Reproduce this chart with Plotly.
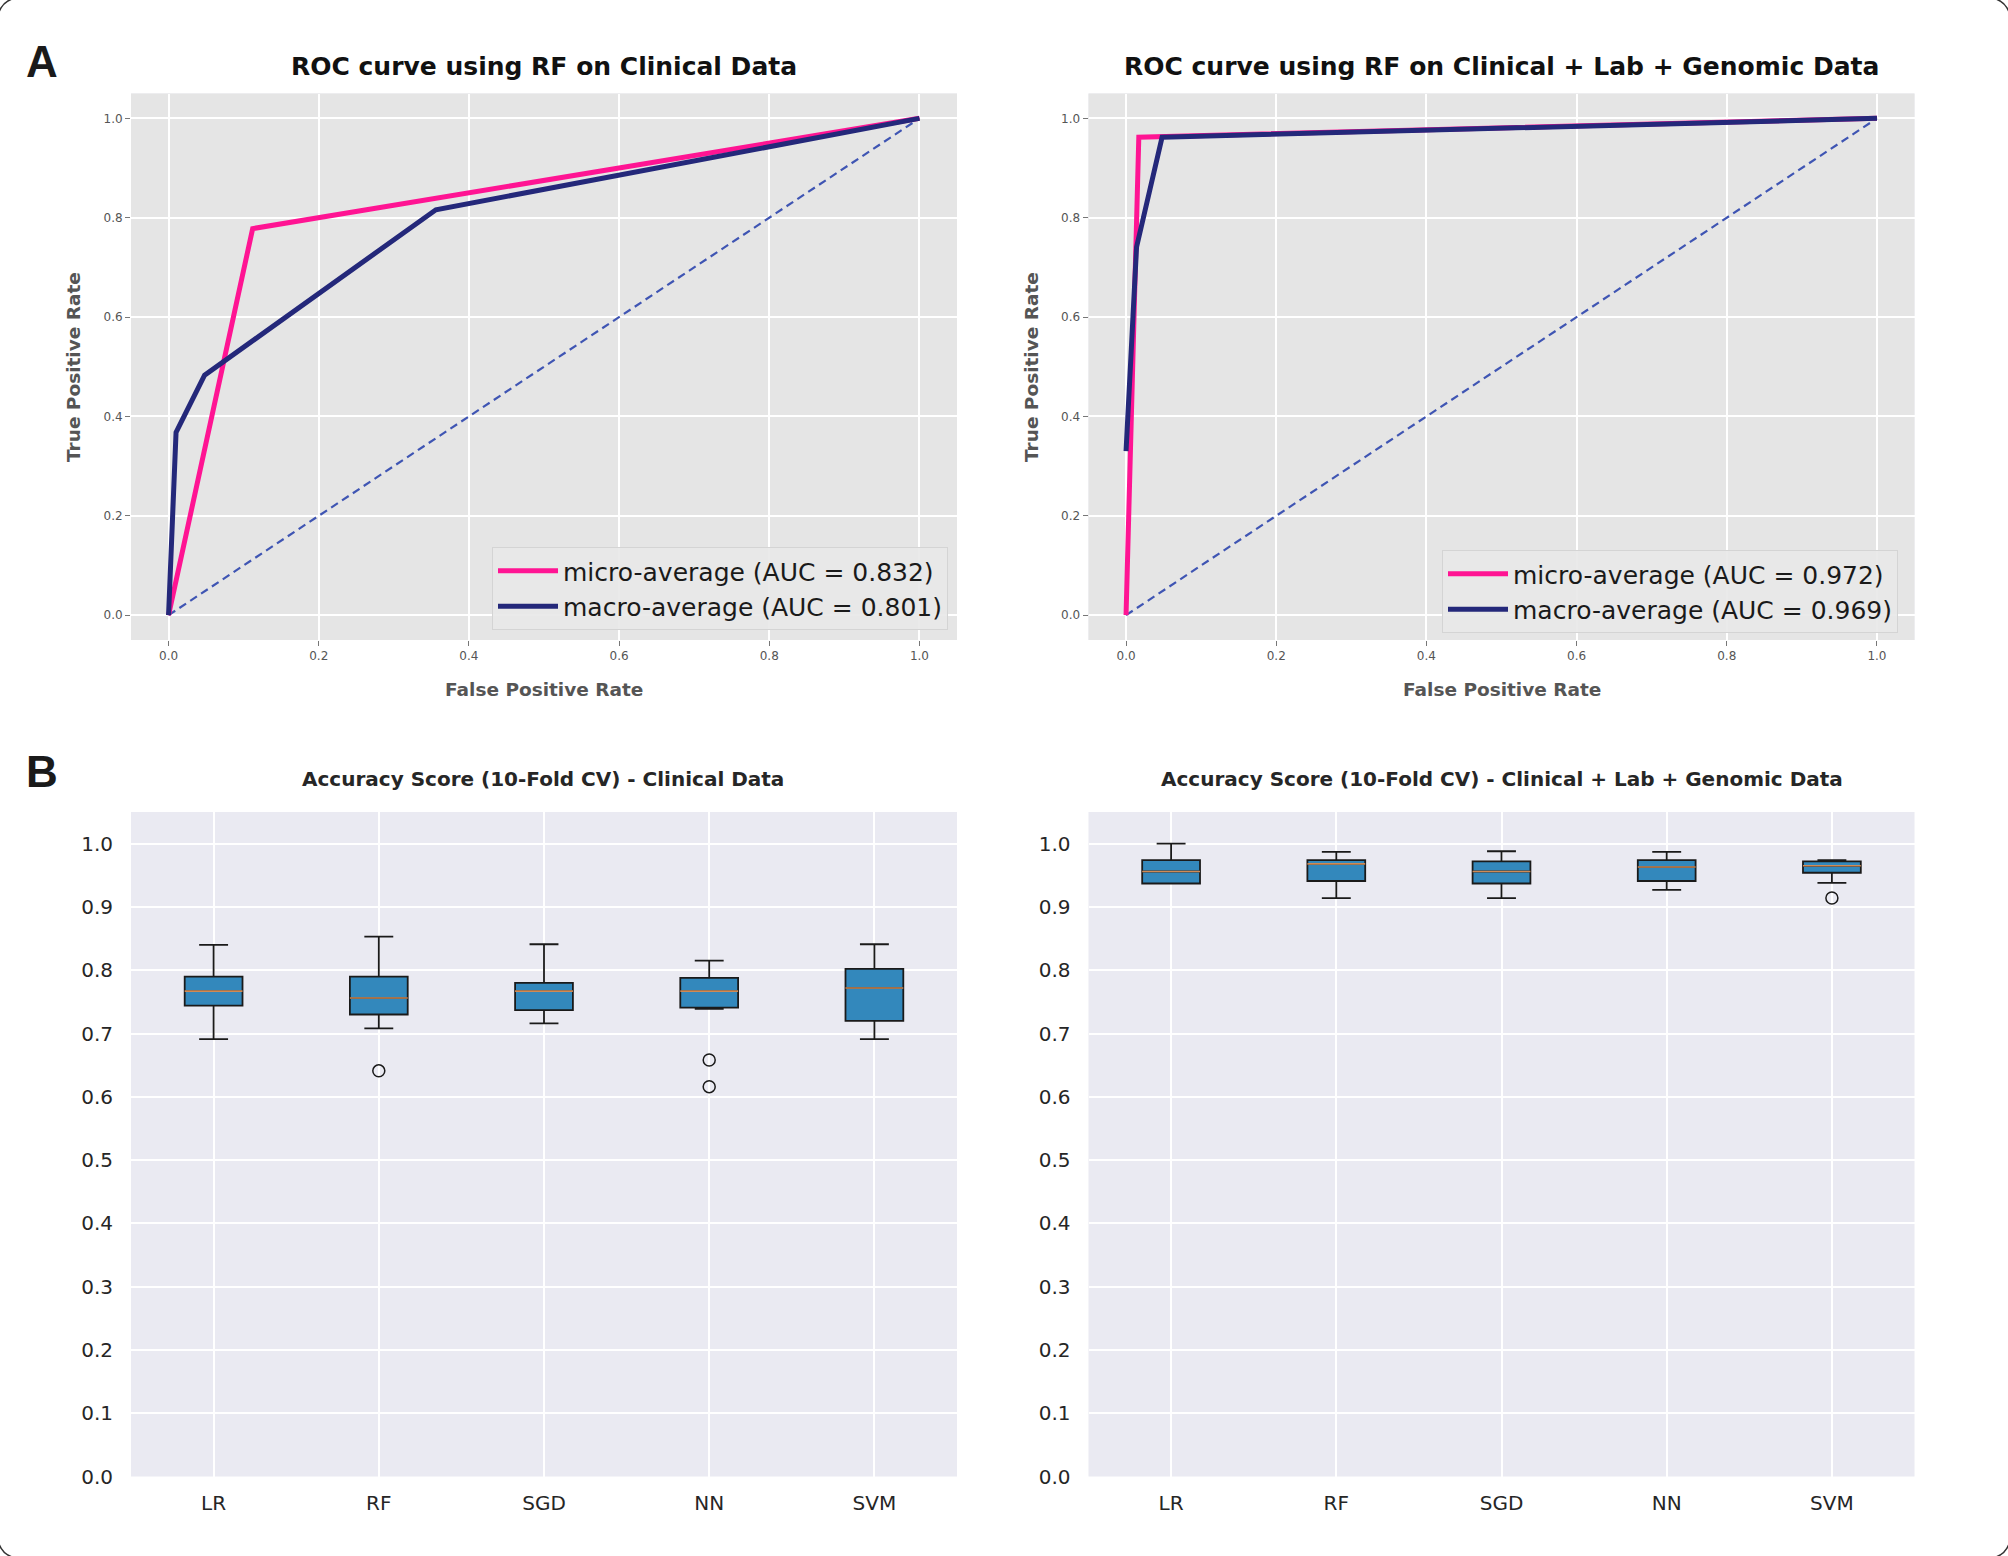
import plotly.graph_objects as go

# ---------------- data ----------------
roc_fpr_ticks = [0.0, 0.2, 0.4, 0.6, 0.8, 1.0]

clin_micro_fpr = [0.0, 0.112, 1.0]
clin_micro_tpr = [0.0, 0.778, 1.0]
clin_macro_fpr = [0.0, 0.010, 0.048, 0.356, 1.0]
clin_macro_tpr = [0.0, 0.368, 0.483, 0.816, 1.0]
clin_micro_auc = 0.832
clin_macro_auc = 0.801

gen_micro_fpr = [0.0, 0.017, 1.0]
gen_micro_tpr = [0.0, 0.962, 1.0]
gen_macro_fpr = [0.0, 0.014, 0.048, 1.0]
gen_macro_tpr = [0.33, 0.741, 0.962, 1.0]
gen_micro_auc = 0.972
gen_macro_auc = 0.969

chance_x = [0.0, 1.0]
chance_y = [0.0, 1.0]

models = ["LR", "RF", "SGD", "NN", "SVM"]

clin_q1 = [0.744, 0.730, 0.737, 0.741, 0.720]
clin_med = [0.767, 0.756, 0.767, 0.767, 0.772]
clin_q3 = [0.790, 0.790, 0.780, 0.788, 0.802]
clin_lo = [0.691, 0.708, 0.716, 0.739, 0.691]
clin_hi = [0.840, 0.853, 0.841, 0.815, 0.841]
clin_out_model = ["RF", "NN", "NN"]
clin_out_val = [0.641, 0.658, 0.616]

gen_q1 = [0.937, 0.941, 0.937, 0.941, 0.954]
gen_med = [0.956, 0.968, 0.956, 0.963, 0.965]
gen_q3 = [0.974, 0.974, 0.972, 0.974, 0.972]
gen_lo = [0.937, 0.914, 0.914, 0.927, 0.938]
gen_hi = [1.000, 0.987, 0.988, 0.987, 0.974]
gen_out_model = ["SVM"]
gen_out_val = [0.914]

acc_ticks = [0.0, 0.1, 0.2, 0.3, 0.4, 0.5, 0.6, 0.7, 0.8, 0.9, 1.0]

# ---------------- styling ----------------
W, H = 2008, 1556
PINK = "#FF1493"
NAVY = "#24287A"
DIAG = "#3F55B3"
BOXFILL = "#3388BC"
MEDIAN = "#D08A55"
FONT = "DejaVu Sans, Verdana, sans-serif"


def px(x):
    return x / W


def py(y):
    return 1 - y / H


fig = go.Figure()

# ---- ROC panels ----
roc_sets = [
    ("x", "y", "legend", clin_micro_fpr, clin_micro_tpr, clin_micro_auc,
     clin_macro_fpr, clin_macro_tpr, clin_macro_auc),
    ("x2", "y2", "legend2", gen_micro_fpr, gen_micro_tpr, gen_micro_auc,
     gen_macro_fpr, gen_macro_tpr, gen_macro_auc),
]
for xa, ya, lg, mif, mit, mia, maf, mat, maa in roc_sets:
    fig.add_trace(go.Scatter(x=chance_x, y=chance_y, mode="lines", xaxis=xa, yaxis=ya,
                             line=dict(color=DIAG, width=2.2, dash="8px,5px"),
                             showlegend=False, hoverinfo="skip"))
    fig.add_trace(go.Scatter(x=mif, y=mit, mode="lines", xaxis=xa, yaxis=ya,
                             line=dict(color=PINK, width=5),
                             name=f"micro-average (AUC = {mia:.3f})", legend=lg))
    fig.add_trace(go.Scatter(x=maf, y=mat, mode="lines", xaxis=xa, yaxis=ya,
                             line=dict(color=NAVY, width=5),
                             name=f"macro-average (AUC = {maa:.3f})", legend=lg))

# ---- Box panels ----
box_sets = [
    ("x3", "y3", clin_q1, clin_med, clin_q3, clin_lo, clin_hi, clin_out_model, clin_out_val),
    ("x4", "y4", gen_q1, gen_med, gen_q3, gen_lo, gen_hi, gen_out_model, gen_out_val),
]
for xa, ya, q1, med, q3, lo, hi, om, ov in box_sets:
    fig.add_trace(go.Box(x=models, q1=q1, median=med, q3=q3, lowerfence=lo, upperfence=hi,
                         xaxis=xa, yaxis=ya, fillcolor=BOXFILL,
                         line=dict(color="#1a1a1a", width=1.8), whiskerwidth=0.5,
                         showlegend=False, hoverinfo="skip"))
    # orange median lines drawn as degenerate boxes
    fig.add_trace(go.Box(x=models, q1=med, median=med, q3=med, lowerfence=med, upperfence=med,
                         xaxis=xa, yaxis=ya, fillcolor="rgba(0,0,0,0)",
                         line=dict(color=MEDIAN, width=1.6), whiskerwidth=0,
                         showlegend=False, hoverinfo="skip"))
    fig.add_trace(go.Scatter(x=om, y=ov, mode="markers", xaxis=xa, yaxis=ya,
                             marker=dict(symbol="circle-open", size=12,
                                         color="#1a1a1a", line=dict(width=1.5)),
                             showlegend=False, hoverinfo="skip"))

# ---------------- layout ----------------
top_y = [py(640), py(93.5)]
bot_y = [py(1476.5), py(812)]
left_x = [px(131), px(957)]
right_x = [px(1088.5), px(1914.5)]

roc_axis = dict(range=[-0.05, 1.05], tickvals=roc_fpr_ticks, tickformat=".1f",
                showgrid=True, gridcolor="white", gridwidth=1.5, zeroline=False,
                ticks="outside", ticklen=5, tickwidth=1, tickcolor="#777",
                tickfont=dict(family=FONT, size=12, color="#555"), showline=False,
                automargin=False)
acc_y = dict(range=[0, 1.05], tickvals=acc_ticks, tickformat=".1f",
             showgrid=True, gridcolor="white", gridwidth=1.5, zeroline=False,
             ticks="", tickfont=dict(family=FONT, size=20, color="#262626"),
             ticklabelstandoff=17, showline=False, automargin=False)
acc_x = dict(type="category", categoryorder="array", categoryarray=models,
             range=[-0.5, 4.5], showgrid=True, gridcolor="white", gridwidth=1.5,
             ticks="", tickfont=dict(family=FONT, size=20, color="#262626"),
             ticklabelstandoff=12, showline=False, zeroline=False, automargin=False)

legend_common = dict(font=dict(family=FONT, size=25, color="#1a1a1a"),
                     bgcolor="rgba(232,232,232,0.9)", bordercolor="#d4d4d4",
                     borderwidth=1, xanchor="right", yanchor="bottom",
                     itemwidth=60, tracegroupgap=0)

fig.update_layout(
    width=W, height=H,
    margin=dict(l=0, r=0, t=0, b=0, pad=0, autoexpand=False),
    paper_bgcolor="white",
    plot_bgcolor="#EAEAF2",
    boxmode="overlay", boxgap=0.5,
    font=dict(family=FONT),
    xaxis=dict(domain=left_x, anchor="y", **roc_axis),
    yaxis=dict(domain=top_y, anchor="x", **roc_axis),
    xaxis2=dict(domain=right_x, anchor="y2", **roc_axis),
    yaxis2=dict(domain=top_y, anchor="x2", **roc_axis),
    xaxis3=dict(domain=left_x, anchor="y3", **acc_x),
    yaxis3=dict(domain=bot_y, anchor="x3", **acc_y),
    xaxis4=dict(domain=right_x, anchor="y4", **acc_x),
    yaxis4=dict(domain=bot_y, anchor="x4", **acc_y),
    legend=dict(x=px(948), y=py(630), **legend_common),
    legend2=dict(x=px(1898), y=py(633), **legend_common),
)

# ROC panel backgrounds (ggplot-like grey)
for xa, ya in [("x", "y"), ("x2", "y2")]:
    fig.add_shape(type="rect", xref=f"{xa} domain", yref=f"{ya} domain",
                  x0=0, x1=1, y0=0, y1=1, fillcolor="#E5E5E5",
                  line=dict(width=0), layer="below")

# ---------------- text ----------------
ann = []


def text(x, y, s, size, color="#111", bold=False, angle=0, family=FONT):
    ann.append(dict(x=px(x), y=py(y), xref="paper", yref="paper", showarrow=False,
                    text=f"<b>{s}</b>" if bold else s, textangle=angle,
                    xanchor="center", yanchor="middle",
                    font=dict(family=family, size=size, color=color)))


text(42, 61, "A", 44, "#1a1a1a", True, family="Liberation Sans, Arial, sans-serif")
text(42, 771, "B", 44, "#1a1a1a", True, family="Liberation Sans, Arial, sans-serif")

text(544, 66.5, "ROC curve using RF on Clinical Data", 25, "#111", True)
text(1501.5, 66.5, "ROC curve using RF on Clinical + Lab + Genomic Data", 25, "#111", True)
text(544, 689, "False Positive Rate", 18.5, "#555", True)
text(1501.5, 689, "False Positive Rate", 18.5, "#555", True)
text(73, 367, "True Positive Rate", 18.5, "#555", True, angle=-90)
text(1031, 367, "True Positive Rate", 18.5, "#555", True, angle=-90)

text(543, 778.5, "Accuracy Score (10-Fold CV) - Clinical Data", 20, "#262626", True)
text(1501.5, 778.5, "Accuracy Score (10-Fold CV) - Clinical + Lab + Genomic Data", 20, "#262626", True)

fig.update_layout(annotations=ann)

# rounded outer frame (only its corners fall inside the picture)
r = 28
x0, y0, x1, y1 = -3, -3, W + 3, H + 3
frame = (f"M {px(x0 + r)},{py(y0)} L {px(x1 - r)},{py(y0)} "
         f"Q {px(x1)},{py(y0)} {px(x1)},{py(y0 + r)} "
         f"L {px(x1)},{py(y1 - r)} Q {px(x1)},{py(y1)} {px(x1 - r)},{py(y1)} "
         f"L {px(x0 + r)},{py(y1)} Q {px(x0)},{py(y1)} {px(x0)},{py(y1 - r)} "
         f"L {px(x0)},{py(y0 + r)} Q {px(x0)},{py(y0)} {px(x0 + r)},{py(y0)} Z")
fig.add_shape(type="path", xref="paper", yref="paper", path=frame,
              line=dict(color="#333", width=1.5), layer="above")

post = (
    "document.documentElement.style.margin='0';"
    "document.documentElement.style.overflow='hidden';"
    "document.body.style.margin='0';"
    "document.body.style.overflow='hidden';"
)
fig.write_html("out.html", config={"displayModeBar": False}, post_script=post)
